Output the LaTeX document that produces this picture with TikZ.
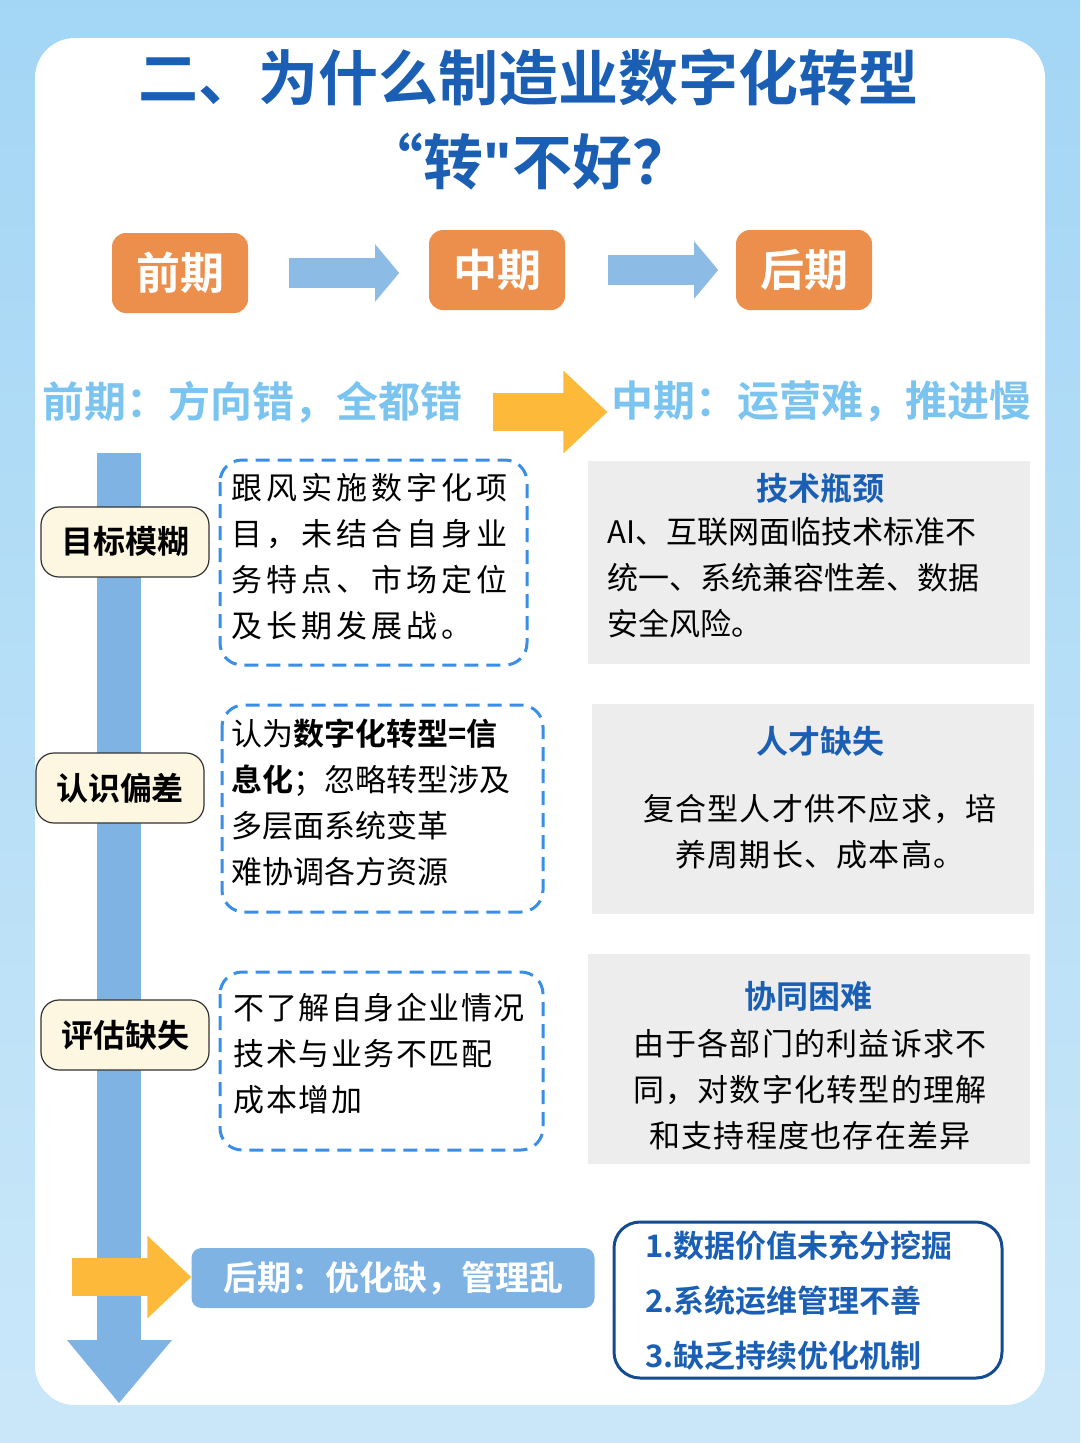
\documentclass[tikz,border=0pt]{standalone}
\usepackage{fontspec}
\setmainfont{Noto Sans CJK SC}[BoldFont={Noto Sans CJK SC Bold}]
\newfontfamily\latfont{Liberation Sans}
\usetikzlibrary{arrows.meta,shapes.geometric}
\definecolor{dblue}{HTML}{1A5FB4}
\definecolor{orng}{HTML}{EC8F4C}
\definecolor{lblue}{HTML}{7FB3E3}
\definecolor{sky}{HTML}{7CC4F0}
\definecolor{yel}{HTML}{FDB93A}
\definecolor{dash}{HTML}{3A8EE6}
\definecolor{gbox}{HTML}{EDEDED}
\definecolor{cream}{HTML}{FDF6E0}
\begin{document}
\begin{tikzpicture}[x=1pt,y=-1pt,
 phase/.style={fill=orng,rounded corners=14pt,text=white,font=\bfseries\fontsize{44}{44}\selectfont,minimum width=136pt,minimum height=80pt},
 tag/.style={draw=black!80,line width=1.2pt,fill=cream,rounded corners=18pt,font=\bfseries\fontsize{32}{32}\selectfont,minimum width=168pt,minimum height=70pt},
 dbox/.style={draw=dash,dashed,line width=3pt,dash pattern=on 14pt off 8pt,rounded corners=22pt},
 gray/.style={fill=gbox},
 body/.style={font=\fontsize{31}{46}\selectfont,align=left,anchor=north west},
 cbody/.style={font=\fontsize{31}{46}\selectfont,align=center},
 head/.style={text=dblue,font=\bfseries\fontsize{32}{32}\selectfont},
 yarrow/.style={-{Triangle[length=44pt,width=80pt]},line width=38pt,draw=yel},
 barrow/.style={-{Triangle[length=24pt,width=56pt]},line width=30pt,draw=lblue!90}]
\useasboundingbox (0,0) rectangle (1080,1443);
\shade[top color=sky!70,bottom color=sky!40] (0,0) rectangle (1080,1443);
\fill[white,rounded corners=40pt] (35,38) rectangle (1045,1405);
% title
\node[text=dblue,font=\bfseries\fontsize{60}{60}\selectfont] (t1) at (528,78) {二、为什么制造业数字化转型};
\node[text=dblue,font=\bfseries\fontsize{60}{60}\selectfont] (t2) at (528,162) {“转{\latfont\bfseries\symbol{34}}不好？};
% phases
\node[phase] (p1) at (180,273) {前期};
\node[phase] (p2) at (497,270) {中期};
\node[phase] (p3) at (804,270) {后期};
\draw[barrow] (p1.east)++(41,0) coordinate (a1s) -- ++(110,0) coordinate (a1e);
\draw[barrow] (p2.east)++(43,0) coordinate (a2s) -- ++(110,0) coordinate (a2e);
% subheaders
\node[text=sky,font=\bfseries\fontsize{42}{42}\selectfont] (s1) at (252,402) {前期：方向错，全都错};
\node[text=sky,font=\bfseries\fontsize{42}{42}\selectfont] (s2) at (821,402) {中期：运营难，推进慢};
\coordinate (ya) at (493,412);
\draw[yarrow] (ya) -- (s2.west|-ya);
% vertical bar
\fill[lblue] (97,453) rectangle (141,1342);
\fill[lblue] (67,1340) -- (172,1340) -- (119,1403) -- cycle;
% tags
\node[tag] (g1) at (125,542) {目标模糊};
\node[tag] (g2) at (120,788) {认识偏差};
\node[tag] (g3) at (125,1035) {评估缺失};
% dashed boxes
\draw[dbox] (220,460) rectangle (527,665);
\node[body,font=\fontsize{31}{46}\selectfont\addfontfeature{LetterSpace=13}] (d1) at (228,470) {跟风实施数字化项\\目，未结合自身业\\务特点、市场定位\\及长期发展战。};
\draw[dbox] (222,705) rectangle (543,912);
\node[body] (d2) at (228,715) {认为\textbf{数字化转型=信}\\\textbf{息化}；忽略转型涉及\\多层面系统变革\\难协调各方资源};
\draw[dbox] (220,972) rectangle (543,1150);
\node[body,font=\fontsize{31}{46}\selectfont\addfontfeature{LetterSpace=5}] (d3) at (230,990) {不了解自身企业情况\\技术与业务不匹配\\成本增加};
% gray boxes
\fill[gray] (588,461) rectangle (1030,664);
\node[head] (h1) at (820,488) {技术瓶颈};
\node[body] (b1) at (604,514) {AI、互联网面临技术标准不\\统一、系统兼容性差、数据\\安全风险。};
\fill[gray] (592,704) rectangle (1034,914);
\node[head] (h2) at (820,741) {人才缺失};
\node[cbody,font=\fontsize{31}{46}\selectfont\addfontfeature{LetterSpace=4}] (b2) at (820,832) {复合型人才供不应求，培\\养周期长、成本高。};
\fill[gray] (588,954) rectangle (1030,1164);
\node[head] (h3) at (808,996) {协同困难};
\node[cbody,font=\fontsize{31}{46}\selectfont\addfontfeature{LetterSpace=4}] (b3) at (810,1090) {由于各部门的利益诉求不\\同，对数字化转型的理解\\和支持程度也存在差异};
% bottom
\node[fill=lblue,rounded corners=10pt,text=white,font=\bfseries\fontsize{34}{34}\selectfont,minimum width=403pt,minimum height=60pt] (late) at (393,1278) {后期：优化缺，管理乱};
\coordinate (yb) at (72,1277);
\draw[yarrow] (yb) -- (late.west|-yb);
\draw[draw=dblue!80!black,line width=3pt,rounded corners=26pt] (614,1222) rectangle (1002,1378);
\node[text=dblue,font=\bfseries\fontsize{31}{55}\selectfont,align=left,anchor=north west] (lst) at (642,1227) {1.数据价值未充分挖掘\\2.系统运维管理不善\\3.缺乏持续优化机制};
\end{tikzpicture}
\end{document}
